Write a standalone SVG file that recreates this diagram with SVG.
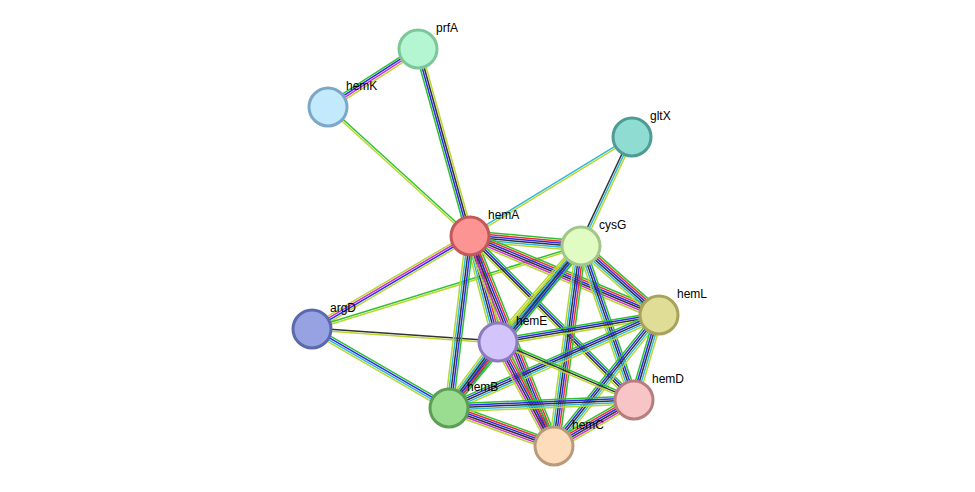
<svg xmlns="http://www.w3.org/2000/svg" width="975" height="492" viewBox="0 0 975 492">
<style>
.e line{stroke-width:1.5;fill:none}
.g{stroke:#2ec22e}.b{stroke:#2a2af0}.k{stroke:#333}.r{stroke:#f03030}.c{stroke:#30b8e0}.m{stroke:#d030d0}.y{stroke:#b8d830}
.n circle{stroke-width:3}
text{font-family:"Liberation Sans",Arial,sans-serif;font-size:12px;fill:#000}
</style>
<rect width="975" height="492" fill="#fff"/>
<g id="edges" class="e">
<g transform="translate(328,107) rotate(-32.8)"><line x2="107" y1="-3" y2="-3" class="g"/><line x2="107" y1="-1" y2="-1" class="b"/><line x2="107" y1="1" y2="1" class="m"/><line x2="107" y1="3" y2="3" class="y"/></g>
<g transform="translate(328,107) rotate(42.3)"><line x2="192" y1="-1" y2="-1" class="g"/><line x2="192" y1="1" y2="1" class="y"/></g>
<g transform="translate(418,49) rotate(74.5)"><line x2="194" y1="-3" y2="-3" class="y"/><line x2="194" y1="-1" y2="-1" class="k"/><line x2="194" y1="1" y2="1" class="b"/><line x2="194" y1="3" y2="3" class="g"/></g>
<g transform="translate(470,236) rotate(-31.4)"><line x2="190" y1="-1" y2="-1" class="c"/><line x2="190" y1="1" y2="1" class="y"/></g>
<g transform="translate(581,246) rotate(-64.9)"><line x2="120" y1="-2" y2="-2" class="k"/><line x2="120" y1="0" y2="0" class="c"/><line x2="120" y1="2" y2="2" class="y"/></g>
<g transform="translate(470,236) rotate(5.1)"><line x2="111" y1="-5" y2="-5" class="g"/><line x2="111" y1="-3" y2="-3" class="r"/><line x2="111" y1="-1" y2="-1" class="b"/><line x2="111" y1="1" y2="1" class="k"/><line x2="111" y1="3" y2="3" class="c"/><line x2="111" y1="5" y2="5" class="y"/></g>
<g transform="translate(312,329) rotate(-30.5)"><line x2="183" y1="-3" y2="-3" class="y"/><line x2="183" y1="-1" y2="-1" class="m"/><line x2="183" y1="1" y2="1" class="b"/><line x2="183" y1="3" y2="3" class="y"/></g>
<g transform="translate(312,329) rotate(-17.1)"><line x2="281" y1="-1" y2="-1" class="g"/><line x2="281" y1="1" y2="1" class="y"/></g>
<g transform="translate(312,329) rotate(4)"><line x2="186" y1="-1" y2="-1" class="k"/><line x2="186" y1="1" y2="1" class="y"/></g>
<g transform="translate(312,329) rotate(30)"><line x2="158" y1="-3" y2="-3" class="g"/><line x2="158" y1="-1" y2="-1" class="b"/><line x2="158" y1="1" y2="1" class="c"/><line x2="158" y1="3" y2="3" class="y"/></g>
<g transform="translate(470,236) rotate(22.7)"><line x2="205" y1="-5" y2="-5" class="g"/><line x2="205" y1="-3" y2="-3" class="r"/><line x2="205" y1="-1" y2="-1" class="b"/><line x2="205" y1="1" y2="1" class="k"/><line x2="205" y1="3" y2="3" class="m"/><line x2="205" y1="5" y2="5" class="y"/></g>
<g transform="translate(470,236) rotate(75.2)"><line x2="110" y1="-5" y2="-5" class="g"/><line x2="110" y1="-3" y2="-3" class="r"/><line x2="110" y1="-1" y2="-1" class="b"/><line x2="110" y1="1" y2="1" class="k"/><line x2="110" y1="3" y2="3" class="c"/><line x2="110" y1="5" y2="5" class="y"/></g>
<g transform="translate(470,236) rotate(97)"><line x2="173" y1="-4" y2="-4" class="g"/><line x2="173" y1="-2" y2="-2" class="b"/><line x2="173" y1="0" y2="0" class="k"/><line x2="173" y1="2" y2="2" class="c"/><line x2="173" y1="4" y2="4" class="y"/></g>
<g transform="translate(470,236) rotate(68.2)"><line x2="226" y1="-5" y2="-5" class="g"/><line x2="226" y1="-3" y2="-3" class="r"/><line x2="226" y1="-1" y2="-1" class="b"/><line x2="226" y1="1" y2="1" class="k"/><line x2="226" y1="3" y2="3" class="m"/><line x2="226" y1="5" y2="5" class="y"/></g>
<g transform="translate(470,236) rotate(45)"><line x2="232" y1="-3" y2="-3" class="g"/><line x2="232" y1="-1" y2="-1" class="b"/><line x2="232" y1="1" y2="1" class="k"/><line x2="232" y1="3" y2="3" class="y"/></g>
<g transform="translate(581,246) rotate(41.5)"><line x2="104" y1="-5" y2="-5" class="g"/><line x2="104" y1="-3" y2="-3" class="r"/><line x2="104" y1="-1" y2="-1" class="b"/><line x2="104" y1="1" y2="1" class="k"/><line x2="104" y1="3" y2="3" class="c"/><line x2="104" y1="5" y2="5" class="y"/></g>
<g transform="translate(581,246) rotate(130.8)"><line x2="127" y1="-5" y2="-5" class="g"/><line x2="127" y1="-3" y2="-3" class="c"/><line x2="127" y1="-1" y2="-1" class="b"/><line x2="127" y1="1" y2="1" class="k"/><line x2="127" y1="3" y2="3" class="y"/><line x2="127" y1="5" y2="5" class="y"/></g>
<g transform="translate(581,246) rotate(129.2)"><line x2="209" y1="-4" y2="-4" class="g"/><line x2="209" y1="-2" y2="-2" class="b"/><line x2="209" y1="0" y2="0" class="k"/><line x2="209" y1="2" y2="2" class="c"/><line x2="209" y1="4" y2="4" class="y"/></g>
<g transform="translate(581,246) rotate(97.7)"><line x2="202" y1="-5" y2="-5" class="g"/><line x2="202" y1="-3" y2="-3" class="r"/><line x2="202" y1="-1" y2="-1" class="b"/><line x2="202" y1="1" y2="1" class="k"/><line x2="202" y1="3" y2="3" class="c"/><line x2="202" y1="5" y2="5" class="y"/></g>
<g transform="translate(581,246) rotate(71)"><line x2="163" y1="-4" y2="-4" class="g"/><line x2="163" y1="-2" y2="-2" class="b"/><line x2="163" y1="0" y2="0" class="k"/><line x2="163" y1="2" y2="2" class="c"/><line x2="163" y1="4" y2="4" class="y"/></g>
<g transform="translate(498,342) rotate(-9.5)"><line x2="163" y1="-3" y2="-3" class="g"/><line x2="163" y1="-1" y2="-1" class="b"/><line x2="163" y1="1" y2="1" class="k"/><line x2="163" y1="3" y2="3" class="y"/></g>
<g transform="translate(449,408) rotate(-23.9)"><line x2="230" y1="-4" y2="-4" class="g"/><line x2="230" y1="-2" y2="-2" class="b"/><line x2="230" y1="0" y2="0" class="k"/><line x2="230" y1="2" y2="2" class="c"/><line x2="230" y1="4" y2="4" class="y"/></g>
<g transform="translate(554,446) rotate(-51.3)"><line x2="168" y1="-4" y2="-4" class="g"/><line x2="168" y1="-2" y2="-2" class="b"/><line x2="168" y1="0" y2="0" class="k"/><line x2="168" y1="2" y2="2" class="c"/><line x2="168" y1="4" y2="4" class="y"/></g>
<g transform="translate(634,400) rotate(-73.6)"><line x2="89" y1="-4" y2="-4" class="g"/><line x2="89" y1="-2" y2="-2" class="b"/><line x2="89" y1="0" y2="0" class="k"/><line x2="89" y1="2" y2="2" class="c"/><line x2="89" y1="4" y2="4" class="y"/></g>
<g transform="translate(498,342) rotate(126.6)"><line x2="82" y1="-5" y2="-5" class="g"/><line x2="82" y1="-3" y2="-3" class="r"/><line x2="82" y1="-1" y2="-1" class="b"/><line x2="82" y1="1" y2="1" class="k"/><line x2="82" y1="3" y2="3" class="c"/><line x2="82" y1="5" y2="5" class="y"/></g>
<g transform="translate(498,342) rotate(61.7)"><line x2="118" y1="-5" y2="-5" class="g"/><line x2="118" y1="-3" y2="-3" class="r"/><line x2="118" y1="-1" y2="-1" class="b"/><line x2="118" y1="1" y2="1" class="k"/><line x2="118" y1="3" y2="3" class="m"/><line x2="118" y1="5" y2="5" class="y"/></g>
<g transform="translate(498,342) rotate(23.1)"><line x2="148" y1="-2" y2="-2" class="g"/><line x2="148" y1="0" y2="0" class="k"/><line x2="148" y1="2" y2="2" class="y"/></g>
<g transform="translate(449,408) rotate(19.9)"><line x2="112" y1="-5" y2="-5" class="g"/><line x2="112" y1="-3" y2="-3" class="r"/><line x2="112" y1="-1" y2="-1" class="b"/><line x2="112" y1="1" y2="1" class="k"/><line x2="112" y1="3" y2="3" class="m"/><line x2="112" y1="5" y2="5" class="y"/></g>
<g transform="translate(449,408) rotate(-2.5)"><line x2="185" y1="-4" y2="-4" class="g"/><line x2="185" y1="-2" y2="-2" class="b"/><line x2="185" y1="0" y2="0" class="k"/><line x2="185" y1="2" y2="2" class="c"/><line x2="185" y1="4" y2="4" class="y"/></g>
<g transform="translate(554,446) rotate(-29.9)"><line x2="92" y1="-5" y2="-5" class="g"/><line x2="92" y1="-3" y2="-3" class="r"/><line x2="92" y1="-1" y2="-1" class="b"/><line x2="92" y1="1" y2="1" class="k"/><line x2="92" y1="3" y2="3" class="m"/><line x2="92" y1="5" y2="5" class="y"/></g>
</g>
<g id="prfA" class="n"><circle cx="418" cy="49" r="19" fill="#b5f6d2" stroke="#7cc79a"/><text x="436" y="32">prfA</text></g>
<g id="hemK" class="n"><circle cx="328" cy="107" r="19" fill="#c3e9fc" stroke="#7ba7c8"/><text x="346" y="90">hemK</text></g>
<g id="gltX" class="n"><circle cx="632" cy="137" r="19" fill="#8fdcd3" stroke="#4e9c94"/><text x="650" y="120">gltX</text></g>
<g id="hemA" class="n"><circle cx="470" cy="236" r="19" fill="#fc9494" stroke="#c25858"/><text x="488" y="219">hemA</text></g>
<g id="cysG" class="n"><circle cx="581" cy="246" r="19" fill="#e0fcc2" stroke="#a3c68a"/><text x="599" y="229">cysG</text></g>
<g id="argD" class="n"><circle cx="312" cy="329" r="19" fill="#97a2e2" stroke="#5a6aac"/><text x="330" y="312">argD</text></g>
<g id="hemL" class="n"><circle cx="659" cy="315" r="19" fill="#e0de96" stroke="#a8a35a"/><text x="677" y="298">hemL</text></g>
<g id="hemE" class="n"><circle cx="498" cy="342" r="19" fill="#d4c4fc" stroke="#8c7bc0"/><text x="516" y="325">hemE</text></g>
<g id="hemB" class="n"><circle cx="449" cy="408" r="19" fill="#9bdd90" stroke="#5b9e55"/><text x="467" y="391">hemB</text></g>
<g id="hemD" class="n"><circle cx="634" cy="400" r="19" fill="#f8c5c6" stroke="#b77e80"/><text x="652" y="383">hemD</text></g>
<g id="hemC" class="n"><circle cx="554" cy="446" r="19" fill="#fddcbc" stroke="#b89a7c"/><text x="572" y="429">hemC</text></g>
</svg>
